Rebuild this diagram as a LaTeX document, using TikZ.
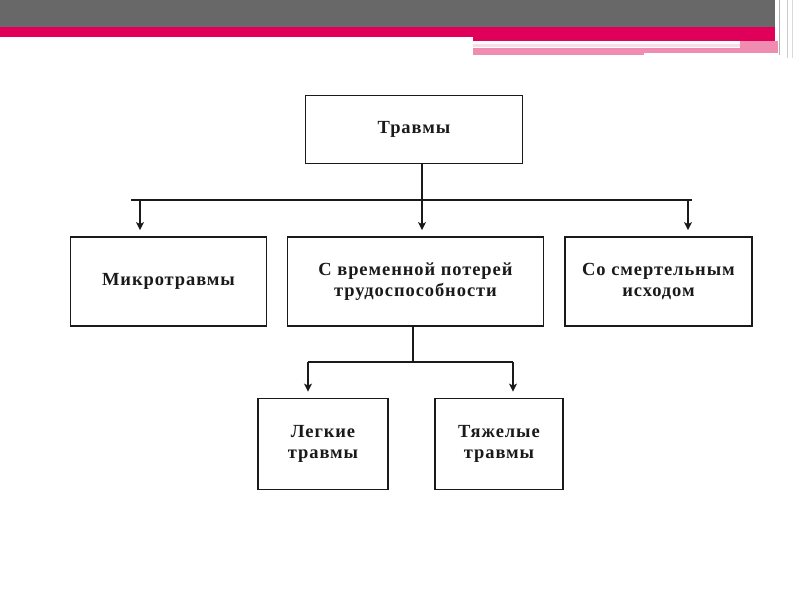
\documentclass[tikz,border=0pt]{standalone}
\usepackage{fontspec}
\setmainfont{Liberation Serif}[LetterSpace=5]
\usetikzlibrary{arrows.meta}
\definecolor{bargray}{HTML}{686868}
\definecolor{deeppink}{HTML}{E0005A}
\definecolor{lightpink}{HTML}{F08CB0}
\definecolor{palepink}{HTML}{FBDCE8}
\definecolor{inkcol}{HTML}{1A1A1A}
\begin{document}
\begin{tikzpicture}[x=1pt,y=-1pt,
  boxnode/.style={draw=inkcol,line width=1.8pt,inner sep=0pt,align=center,font=\fontsize{18.5}{20.5}\selectfont\bfseries,text=inkcol},
  link/.style={draw=inkcol,line width=1.6pt},
  arr/.style={link,-{Stealth[length=8pt,width=8pt,inset=2pt]}}]
\useasboundingbox (0,0) rectangle (800,600);
\fill[white] (0,0) rectangle (800,600);
% header decoration
\fill[bargray] (0,0) rectangle (775,27);
\fill[deeppink] (0,27) rectangle (473,37);
\fill[deeppink] (473,27) rectangle (775,41);
\fill[palepink] (473,43.5) rectangle (740,46.5);
\fill[lightpink] (473,47.5) rectangle (644,55);
\fill[lightpink] (644,47.5) rectangle (778,53);
\fill[lightpink] (740,41) rectangle (778,53);
\draw[gray!60,line width=0.8pt] (779,0) -- (779,55);
\draw[gray!40,line width=0.8pt] (787,0) -- (787,58);
\draw[gray!30,line width=0.6pt] (792,0) -- (792,58);
% nodes
\node[boxnode,minimum width=217pt,minimum height=68pt] (tr) at (414,129.5) {Травмы};
\node[boxnode,minimum width=196pt,minimum height=89pt] (mk) at (168.5,281.5) {Микротравмы};
\node[boxnode,minimum width=256pt,minimum height=89pt] (vr) at (415.5,281.5) {С временной потерей\\трудоспособности};
\node[boxnode,minimum width=187pt,minimum height=89pt] (sm) at (658.5,281.5) {Со смертельным\\исходом};
\node[boxnode,minimum width=130pt,minimum height=91pt] (lg) at (323,444) {Легкие\\травмы};
\node[boxnode,minimum width=128pt,minimum height=91pt] (tj) at (499,444) {Тяжелые\\травмы};
% connectors
\coordinate (j1) at (422,200);
\coordinate (hl) at (131,200);
\coordinate (hr) at (692,200);
\coordinate (j2) at (413,362);
\coordinate (hl2) at (308,362);
\coordinate (hr2) at (513,362);
\draw[link] (tr.south -| j1) -- (j1);
\draw[link] (hl) -- (hr);
\draw[arr] (140,200) -- ([yshift=6pt]mk.north -| 140,0);
\draw[arr] (j1) -- ([yshift=6pt]vr.north -| j1);
\draw[arr] (688,200) -- ([yshift=6pt]sm.north -| 688,0);
\draw[link] (vr.south -| j2) -- (j2);
\draw[link] (hl2) -- (hr2);
\draw[arr] (hl2) -- ([yshift=6pt]lg.north -| hl2);
\draw[arr] (hr2) -- ([yshift=6pt]tj.north -| hr2);
\end{tikzpicture}
\end{document}
